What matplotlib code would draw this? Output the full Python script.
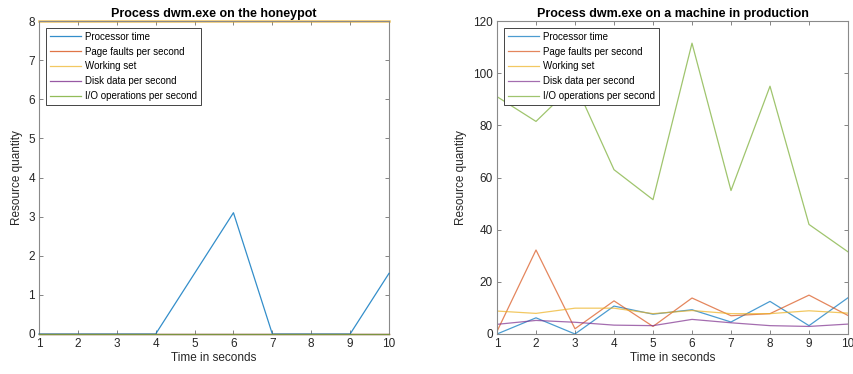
import matplotlib
matplotlib.use("Agg")
import matplotlib.pyplot as plt

plt.rcParams['font.family'] = ['Liberation Sans', 'DejaVu Sans']

time_s = [1, 2, 3, 4, 5, 6, 7, 8, 9, 10]
labels = ["Processor time", "Page faults per second", "Working set",
          "Disk data per second", "I/O operations per second"]
colors = ["#0072BD", "#D95319", "#EDB120", "#7E2F8E", "#77AC30"]

# Honeypot
hp_proc = [0, 0, 0, 0, 1.55, 3.1, 0, 0, 0, 1.55]
hp_pf = [0, 0, 0, 0, 0, 0, 0, 0, 0, 0]
hp_ws = [8, 8, 8, 8, 8, 8, 8, 8, 8, 8]
hp_disk = [0, 0, 0, 0, 0, 0, 0, 0, 0, 0]
hp_io = [0, 0, 0, 0, 0, 0, 0, 0, 0, 0]

# Production machine
pr_proc = [0, 6.2, 0, 10.7, 7.6, 9.3, 4.6, 12.5, 3.2, 13.9]
pr_pf = [1, 32.2, 2, 12.7, 2.9, 13.8, 7, 7.8, 14.9, 7.1]
pr_ws = [8.8, 7.9, 9.9, 9.9, 7.8, 9.0, 7.8, 7.8, 8.9, 8.0]
pr_disk = [3.7, 5.2, 4.5, 3.4, 3.2, 5.6, 4.3, 3.2, 2.9, 3.8]
pr_io = [91, 81.5, 96, 63, 51.5, 111.5, 55, 95, 42, 31.5]

fig = plt.figure(figsize=(8.54, 3.74), dpi=100)
ax1 = fig.add_axes([39/854, 40/374, 350/854, 313/374])
ax2 = fig.add_axes([497/854, 40/374, 351/854, 313/374])

def style(ax, title, ylim, yticks):
    ax.set_xlim(1, 10)
    ax.set_ylim(*ylim)
    ax.set_xticks(time_s)
    ax.set_yticks(yticks)
    ax.tick_params(direction='in', top=True, right=True, labelsize=8.5,
                   labelcolor='#262626', color='#707070', length=3, width=0.6, pad=3)
    for s in ax.spines.values():
        s.set_color('#8a8a8a')
        s.set_linewidth(0.8)
    ax.set_title(title, fontsize=9, fontweight='bold', color='black', pad=3)
    ax.set_xlabel("Time in seconds", fontsize=8.5, color='#262626', labelpad=1)
    ax.set_ylabel("Resource quantity", fontsize=8.5, color='#262626', labelpad=4)
    leg = ax.legend(loc='upper left', fontsize=7, handlelength=3.2,
                    handletextpad=0.4, labelspacing=0.5, borderpad=0.4,
                    fancybox=False, framealpha=1, borderaxespad=0.7)
    leg.get_frame().set_edgecolor('#262626')
    leg.get_frame().set_linewidth(0.6)
    for ln in leg.get_lines():
        ln.set_linewidth(0.9)

series1 = [hp_proc, hp_pf, hp_ws, hp_disk, hp_io]
series2 = [pr_proc, pr_pf, pr_ws, pr_disk, pr_io]
for vals, lab, c in zip(series1, labels, colors):
    if lab == "Working set":
        ax1.plot(time_s, vals, color=c, lw=1.8, alpha=0.7, label=lab, clip_on=False)
    else:
        ax1.plot(time_s, vals, color=c, lw=0.9, alpha=0.8, label=lab,
                 clip_on=False, zorder=3)
for vals, lab, c in zip(series2, labels, colors):
    ax2.plot(time_s, vals, color=c, lw=0.9, alpha=0.7, label=lab)

style(ax1, "Process dwm.exe on the honeypot", (0, 8), range(0, 9))
style(ax2, "Process dwm.exe on a machine in production", (0, 120), range(0, 121, 20))

fig.savefig("out.png", dpi=100)
